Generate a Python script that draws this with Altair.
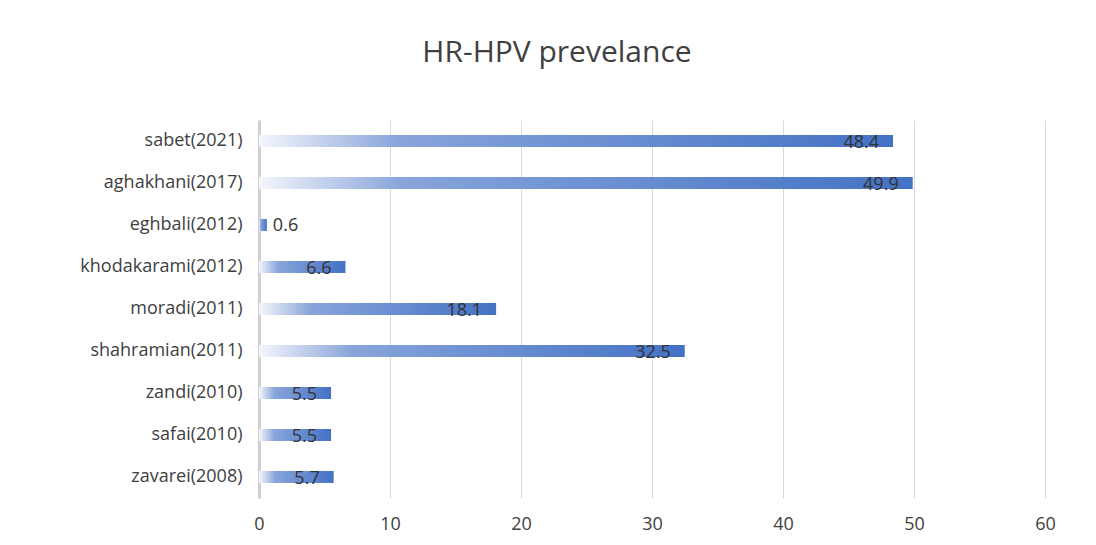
import altair as alt
import pandas as pd

studies = ["sabet(2021)", "aghakhani(2017)", "eghbali(2012)", "khodakarami(2012)",
           "moradi(2011)", "shahramian(2011)", "zandi(2010)", "safai(2010)", "zavarei(2008)"]
prevalence = [48.4, 49.9, 0.6, 6.6, 18.1, 32.5, 5.5, 5.5, 5.7]
x_ticks = [0, 10, 20, 30, 40, 50, 60]

df = pd.DataFrame({"study": studies, "value": prevalence})

FONT = "Open Sans"
TXT = "#404040"

grad = alt.LinearGradient(
    gradient="linear",
    stops=[
        alt.GradientStop(offset=0, color="#f4f6fb"),
        alt.GradientStop(offset=0.22, color="#88a4da"),
        alt.GradientStop(offset=0.5, color="#6f92d3"),
        alt.GradientStop(offset=1, color="#4472c4"),
    ],
    x1=0, x2=1, y1=0, y2=0,
)

x_enc = alt.X("value:Q", scale=alt.Scale(domain=[0, 60], nice=False),
              axis=alt.Axis(values=x_ticks, title=None, grid=True, gridColor="#d9d9d9",
                            domain=False, ticks=False, labelPadding=17, labelFlush=False,
                            labelFontSize=18, labelColor=TXT, labelFont=FONT))
y_enc = alt.Y("study:N", sort=studies,
              scale=alt.Scale(paddingInner=0, paddingOuter=0),
              axis=alt.Axis(title=None, domain=True, domainColor="#d0d0d0", domainWidth=3,
                            ticks=False, labelPadding=17, labelFontSize=18,
                            labelColor=TXT, labelFont=FONT, grid=False))

bars = alt.Chart(df).mark_bar(color=grad, size=12).encode(x=x_enc, y=y_enc)

inside = alt.Chart(df).transform_filter("datum.value >= 3").mark_text(
    align="right", baseline="middle", dx=-14, dy=2, fontSize=18, font=FONT, color="#333333"
).encode(x="value:Q", y=alt.Y("study:N", sort=studies), text=alt.Text("value:Q", format=".1f"))

outside = alt.Chart(df).transform_filter("datum.value < 3").mark_text(
    align="left", baseline="middle", dx=6, dy=1, fontSize=18, font=FONT, color="#333333"
).encode(x="value:Q", y=alt.Y("study:N", sort=studies), text=alt.Text("value:Q", format=".1f"))

chart = alt.layer(bars, inside, outside).properties(
    width=786, height=378,
    title=alt.TitleParams("HR-HPV prevelance", fontSize=30, font=FONT, fontWeight="normal",
                          color=TXT, anchor="middle", dx=-95, offset=52),
    autosize=alt.AutoSizeParams(type="none"),
    padding={"left": 251, "top": 112, "right": 40, "bottom": 40},
    background="white",
).configure_view(stroke=None)

chart.save("out.html", embed_options={"renderer": "svg", "actions": False})
